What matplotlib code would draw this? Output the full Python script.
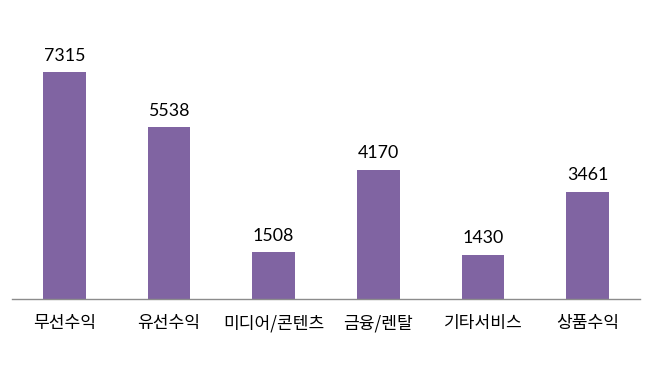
import matplotlib.pyplot as plt

plt.rcParams['font.family'] = ['Lato', 'Noto Sans CJK KR', 'DejaVu Sans']

categories = ['무선수익', '유선수익', '미디어/콘텐츠', '금융/렌탈', '기타서비스', '상품수익']
values = [7315, 5538, 1508, 4170, 1430, 3461]

fig = plt.figure(figsize=(6.51, 3.86), dpi=100)
ax = fig.add_axes([12 / 651, 87 / 386, 628 / 651, 279 / 386])

x = range(len(categories))
ax.bar(x, values, width=0.41, color='#8064A2')
for i, v in enumerate(values):
    ax.annotate(str(v), (i, v), xytext=(0, 6), textcoords='offset points',
                ha='center', va='bottom', fontsize=12.8, color='black')

ax.set_xlim(-0.5, len(categories) - 0.5)
ax.set_ylim(0, 9000)
ax.set_xticks(list(x))
ax.set_xticklabels(categories, fontsize=12.3, family=['Noto Sans CJK KR', 'DejaVu Sans'])
ax.tick_params(axis='x', length=0, pad=11)
ax.set_yticks([])
for s in ['top', 'right', 'left']:
    ax.spines[s].set_visible(False)
ax.spines['bottom'].set_color('#8c8c8c')
ax.spines['bottom'].set_linewidth(1)

fig.savefig('out.png', dpi=100)
